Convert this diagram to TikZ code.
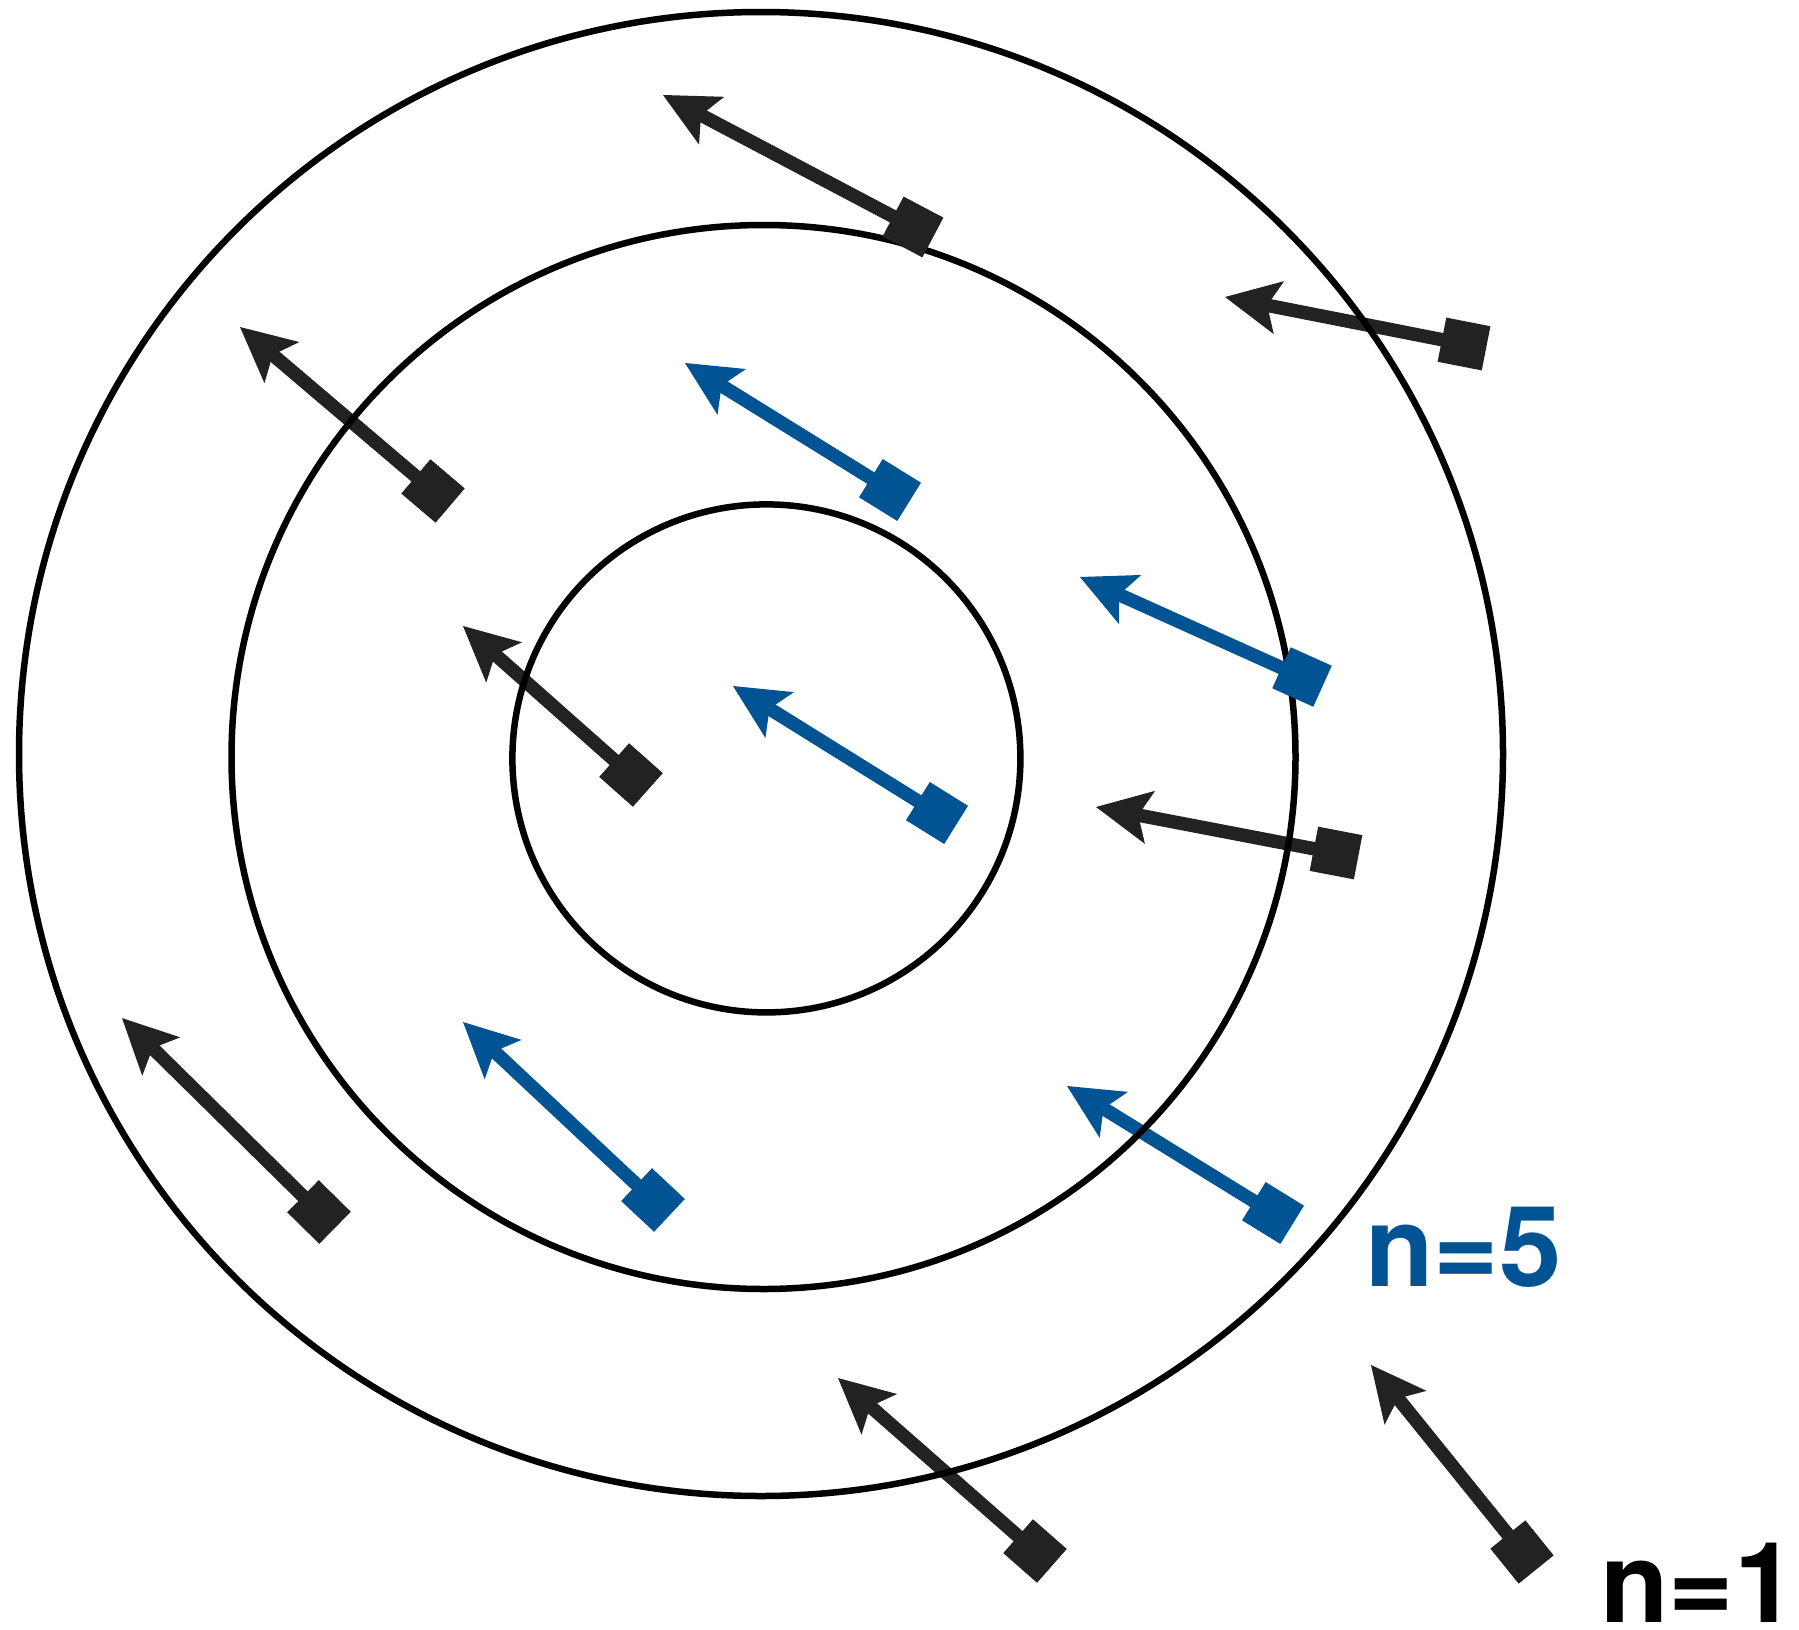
\documentclass[tikz,border=0pt]{standalone}
\usepackage{fontspec}
\newfontfamily\labfont{TeX Gyre Heros}
\usetikzlibrary{arrows.meta}
\definecolor{ink}{HTML}{222222}
\definecolor{navy}{RGB}{0,84,147}
\tikzset{
 ring/.style={draw=black, line width=6.5pt},
 vec/.style={line width=13.5pt, -{Stealth[length=55pt,width=54pt,inset=12pt,line width=0pt]}},
 vblack/.style={vec, draw=ink},
 vblue/.style={vec, draw=navy},
 sq/.style={minimum size=45pt, inner sep=0pt, outer sep=0pt, sloped, pos=0},
 sqblack/.style={sq, fill=ink},
 sqblue/.style={sq, fill=navy},
 lab/.style={anchor=base west, inner sep=0pt, font=\labfont\bfseries\fontsize{112}{112}\selectfont},
}
\begin{document}
\begin{tikzpicture}[x=1pt,y=-1pt]
\useasboundingbox (0,0) rectangle (1799,1630);
% tail (b) and tip (t) points
\coordinate (b1) at (913,227);   \coordinate (t1) at (663,95);
\coordinate (b2) at (1464,344);  \coordinate (t2) at (1225,297);
\coordinate (b3) at (433,491);   \coordinate (t3) at (240,327);
\coordinate (b4) at (890,490);   \coordinate (t4) at (685,363);
\coordinate (b5) at (1302,677);  \coordinate (t5) at (1080,577);
\coordinate (b6) at (631,775);   \coordinate (t6) at (463,626);
\coordinate (b7) at (937,813);   \coordinate (t7) at (733,686);
\coordinate (b8) at (1336,853);  \coordinate (t8) at (1096,807);
\coordinate (b9) at (319,1212);  \coordinate (t9) at (122,1018);
\coordinate (b10) at (653,1200); \coordinate (t10) at (463,1022);
\coordinate (b11) at (1273,1213);\coordinate (t11) at (1067,1086);
\coordinate (b12) at (1035,1551);\coordinate (t12) at (838,1378);
\coordinate (b13) at (1522,1552);\coordinate (t13) at (1371,1365);
% shafts
\draw[vblack] (b1) -- (t1);
\draw[vblack] (b2) -- (t2);
\draw[vblack] (b3) -- (t3);
\draw[vblue]  (b4) -- (t4);
\draw[vblue]  (b5) -- (t5);
\draw[vblack] (b6) -- (t6);
\draw[vblue]  (b7) -- (t7);
\draw[vblack] (b8) -- (t8);
\draw[vblack] (b9) -- (t9);
\draw[vblue]  (b10) -- (t10);
\draw[vblue]  (b11) -- (t11);
\draw[vblack] (b12) -- (t12);
\draw[vblack] (b13) -- (t13);
% rings
\node[ring, circle, minimum size=1484pt, inner sep=0pt] (outer) at (761,754) {};
\node[ring, circle, minimum size=1064pt, inner sep=0pt] (middle) at (763.5,757) {};
\node[ring, circle, minimum size=508pt, inner sep=0pt] (inner) at (766.4,758.4) {};
% squares
\path (b1) -- (t1) node[sqblack] (s1) {};
\path (b2) -- (t2) node[sqblack] (s2) {};
\path (b3) -- (t3) node[sqblack] (s3) {};
\path (b4) -- (t4) node[sqblue] (s4) {};
\path (b5) -- (t5) node[sqblue] (s5) {};
\path (b6) -- (t6) node[sqblack] (s6) {};
\path (b7) -- (t7) node[sqblue] (s7) {};
\path (b8) -- (t8) node[sqblack] (s8) {};
\path (b9) -- (t9) node[sqblack] (s9) {};
\path (b10) -- (t10) node[sqblue] (s10) {};
\path (b11) -- (t11) node[sqblue] (s11) {};
\path (b12) -- (t12) node[sqblack] (s12) {};
\path (b13) -- (t13) node[sqblack] (s13) {};
% labels
\node[lab, text=navy] (n5) at (1365,1286) {n=5};
\node[lab, text=black] (n1) at (1600,1622) {n=1};
\end{tikzpicture}
\end{document}
